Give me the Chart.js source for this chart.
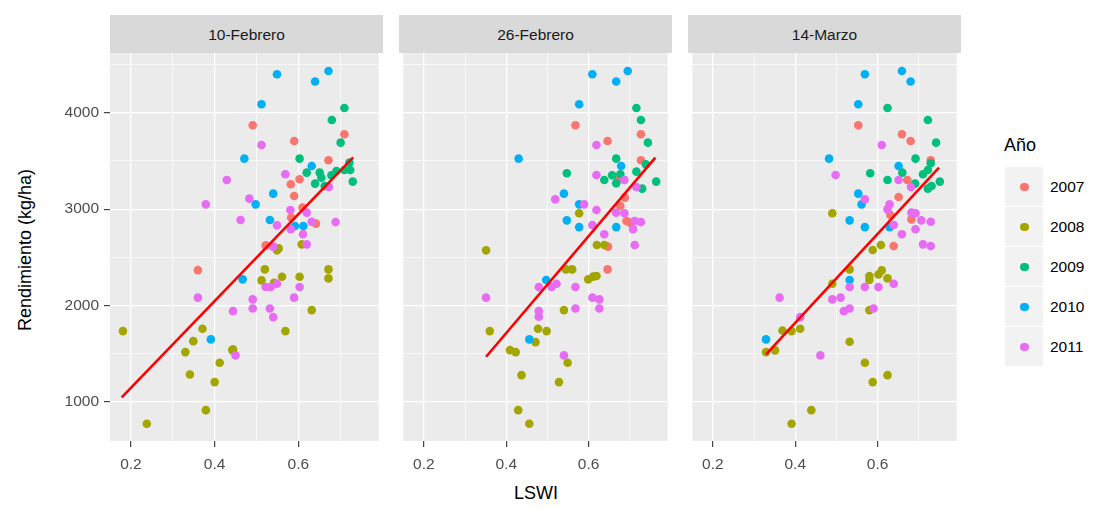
<!DOCTYPE html>
<html>
<head>
<meta charset="utf-8">
<script src="https://cdn.jsdelivr.net/npm/chart.js@4.4.0/dist/chart.umd.min.js"></script>
<style>
  body { margin: 0; background: #fff; font-family: "Liberation Sans", Arial, sans-serif; }
  #wrap { position: relative; width: 1109px; height: 509px; overflow: hidden; }
  .panel { position: absolute; top: 33px; }
  .strip { position: absolute; top: 15px; height: 38px; width: 273px; background: #D9D9D9;
           color: #1A1A1A; font-size: 15.5px; line-height: 40px; text-align: center; }
  #ytitle { position: absolute; left: 25px; top: 250px; transform: translate(-50%, -50%) rotate(-90deg);
            font-size: 18px; white-space: nowrap; color: #000; }
  #xtitle { position: absolute; left: 536px; top: 493px; transform: translate(-50%, -50%);
            font-size: 18px; color: #000; }
  #legend { position: absolute; left: 1004px; top: 132px; }
  #legend .title { font-size: 18px; height: 35px; line-height: 26px; }
  .row { position: relative; height: 40px; }
  .key { position: absolute; left: 1px; top: 0; width: 38px; height: 39px; background: #F2F2F2; }
  .dot { position: absolute; left: 15px; top: 15.5px; width: 8.5px; height: 8.5px; border-radius: 50%; }
  .lab { position: absolute; left: 46px; top: 0; line-height: 40px; font-size: 15.5px; color: #000; }
</style>
</head>
<body>
<div id="wrap">
  <div id="ytitle">Rendimiento (kg/ha)</div>
  <div id="xtitle">LSWI</div>
  <div id="legend"><div class="title">Año</div></div>
</div>
<script>
console.log("we've reached the script");

// facet names, years, colours
const facets = ["10-Febrero", "26-Febrero", "14-Marzo"];
const years = ["2007", "2008", "2009", "2010", "2011"];
const yearColors = ["#F8766D", "#A3A500", "#00BF7D", "#00B0F6", "#E76BF3"];

// axis ticks
const xTicks = [0.2, 0.4, 0.6];
const xMinor = [0.3, 0.5, 0.7];
const yTicks = [1000, 2000, 3000, 4000];
const yMinor = [1500, 2500, 3500, 4500];

// panel 1: 10-Febrero  [LSWI, rendimiento]
const feb10_2007 = [[0.491,3870],[0.710,3777],[0.590,3707],[0.672,3507],[0.582,3258],[0.603,3310],[0.590,3136],
  [0.610,3016],[0.583,2912],[0.642,2850],[0.522,2624],[0.360,2368]];
const feb10_2008 = [[0.553,2593],[0.608,2635],[0.549,2573],[0.520,2375],[0.512,2261],[0.561,2299],[0.603,2299],
  [0.672,2375],[0.672,2282],[0.542,2237],[0.632,1953],[0.569,1735],[0.444,1545],[0.371,1760],[0.349,1631],
  [0.330,1517],[0.442,1538],[0.412,1407],[0.341,1285],[0.400,1206],[0.379,915],[0.238,774],[0.181,1735]];
const feb10_2009 = [[0.710,4050],[0.680,3925],[0.701,3690],[0.603,3524],[0.722,3483],[0.651,3379],[0.620,3379],
  [0.679,3351],[0.691,3396],[0.710,3406],[0.724,3406],[0.730,3286],[0.640,3265],[0.655,3327],[0.663,3240]];
const feb10_2010 = [[0.549,4400],[0.672,4434],[0.640,4324],[0.512,4088],[0.471,3524],[0.632,3448],[0.540,3161],
  [0.498,3050],[0.532,2887],[0.592,2825],[0.612,2825],[0.467,2272],[0.391,1649]];
const feb10_2011 = [[0.512,3666],[0.569,3362],[0.673,3230],[0.483,3109],[0.462,2887],[0.581,2991],[0.620,2964],
  [0.689,2866],[0.632,2870],[0.549,2832],[0.582,2791],[0.611,2739],[0.540,2611],[0.620,2635],[0.522,2192],
  [0.534,2192],[0.549,2227],[0.603,2192],[0.590,2082],[0.491,2064],[0.491,1970],[0.532,1970],[0.540,1880],
  [0.444,1942],[0.450,1483],[0.360,2082],[0.429,3302],[0.379,3050]];

// panel 2: 26-Febrero
const feb26_2007 = [[0.568,3870],[0.727,3777],[0.646,3707],[0.727,3507],[0.673,3310],[0.688,3120],[0.677,3033],
  [0.692,2877],[0.700,2860],[0.647,2611],[0.646,2375]];
const feb26_2008 = [[0.351,2573],[0.360,1735],[0.409,1538],[0.423,1517],[0.437,1278],[0.429,915],[0.456,774],
  [0.471,1621],[0.620,2628],[0.638,2628],[0.545,2375],[0.560,2375],[0.599,2272],[0.611,2300],[0.619,2306],
  [0.540,1953],[0.477,1760],[0.498,1735],[0.549,1407],[0.528,1206],[0.577,2957]];
const feb26_2009 = [[0.716,4050],[0.727,3925],[0.744,3690],[0.667,3524],[0.547,3372],[0.638,3302],[0.657,3351],
  [0.677,3362],[0.667,3268],[0.716,3389],[0.739,3465],[0.730,3213],[0.764,3286]];
const feb26_2010 = [[0.609,4400],[0.695,4434],[0.667,4324],[0.577,4088],[0.430,3524],[0.679,3448],[0.540,3161],
  [0.577,3050],[0.547,2884],[0.577,2814],[0.667,2814],[0.497,2265],[0.456,1649]];
const feb26_2011 = [[0.619,3666],[0.619,3354],[0.687,3302],[0.716,3230],[0.519,3102],[0.589,3050],[0.619,2991],
  [0.667,2964],[0.687,2957],[0.712,2877],[0.727,2866],[0.708,2791],[0.609,2835],[0.638,2739],[0.712,2628],
  [0.479,2192],[0.510,2192],[0.522,2227],[0.568,2192],[0.609,2082],[0.626,2064],[0.626,1970],[0.568,1970],
  [0.479,1942],[0.479,1885],[0.540,1483],[0.351,2082]];

// panel 3: 14-Marzo
const mar14_2007 = [[0.553,3870],[0.659,3777],[0.680,3707],[0.729,3507],[0.672,3302],[0.651,3126],[0.631,2939],
  [0.682,2894],[0.639,2617]];
const mar14_2008 = [[0.490,2957],[0.588,2576],[0.608,2628],[0.532,2375],[0.490,2227],[0.580,2306],[0.610,2365],
  [0.624,2282],[0.580,2265],[0.602,2323],[0.580,1953],[0.532,1625],[0.569,1407],[0.624,1278],[0.588,1206],
  [0.369,1742],[0.391,1735],[0.412,1760],[0.329,1517],[0.351,1535],[0.439,915],[0.391,774]];
const mar14_2009 = [[0.624,4050],[0.722,3925],[0.742,3690],[0.692,3524],[0.582,3372],[0.660,3379],[0.710,3362],
  [0.722,3406],[0.729,3476],[0.624,3302],[0.691,3265],[0.722,3213],[0.731,3240],[0.751,3286]];
const mar14_2010 = [[0.569,4400],[0.659,4434],[0.680,4324],[0.553,4088],[0.482,3524],[0.651,3448],[0.553,3161],
  [0.561,3050],[0.532,2884],[0.569,2814],[0.629,2814],[0.532,2265],[0.329,1649]];
const mar14_2011 = [[0.610,3666],[0.498,3354],[0.651,3302],[0.681,3230],[0.569,3102],[0.629,3050],[0.624,2998],
  [0.682,2964],[0.692,2957],[0.706,2884],[0.729,2870],[0.692,2791],[0.639,2835],[0.659,2739],[0.710,2635],
  [0.729,2617],[0.532,2192],[0.569,2192],[0.602,2192],[0.639,2227],[0.490,2064],[0.510,2082],[0.518,1942],
  [0.532,1970],[0.590,1970],[0.461,1483],[0.362,2082],[0.412,1880]];

// linear fit ends per panel
const fitFeb10 = [[0.178,1047],[0.731,3538]];
const fitFeb26 = [[0.351,1469],[0.762,3535]];
const fitMar14 = [[0.329,1493],[0.749,3431]];

const panelPoints = [
  [feb10_2007, feb10_2008, feb10_2009, feb10_2010, feb10_2011],
  [feb26_2007, feb26_2008, feb26_2009, feb26_2010, feb26_2011],
  [mar14_2007, mar14_2008, mar14_2009, mar14_2010, mar14_2011]
];
const panelFits = [fitFeb10, fitFeb26, fitMar14];

// layout
const panelLeft = [110, 399, 688];
const panelW = 273;
const fontFam = "'Liberation Sans', Arial, sans-serif";

const panelBg = {
  id: 'panelBg',
  beforeDraw(chart) {
    const {ctx, chartArea: a} = chart;
    ctx.save();
    ctx.fillStyle = '#EBEBEB';
    ctx.fillRect(a.left, a.top, a.right - a.left, a.bottom - a.top);
    ctx.restore();
  }
};

const toXY = arr => arr.map(([x, y]) => ({x: x, y: y}));
const xAll = [...xTicks, ...xMinor].sort((a, b) => a - b);
const yAll = [...yTicks, ...yMinor].sort((a, b) => a - b);

function makePanel(i) {
  const wrap = document.getElementById("wrap");
  const yw = i === 0 ? 70 : 0;

  const strip = document.createElement("div");
  strip.className = "strip";
  strip.style.left = panelLeft[i] + "px";
  strip.textContent = facets[i];
  wrap.appendChild(strip);

  const box = document.createElement("div");
  box.className = "panel";
  box.style.left = (panelLeft[i] - yw) + "px";
  const cv = document.createElement("canvas");
  cv.width = panelW + yw;
  cv.height = 443;
  box.appendChild(cv);
  wrap.appendChild(box);

  const datasets = [{
    type: 'line', data: toXY(panelFits[i]), borderColor: '#FF0000', borderWidth: 2.6,
    pointRadius: 0, fill: false, order: 0
  }];
  years.forEach((yr, k) => {
    datasets.push({
      type: 'scatter', label: yr, data: toXY(panelPoints[i][k]),
      backgroundColor: yearColors[k], borderWidth: 0, pointRadius: 4.3, pointHoverRadius: 4.3,
      order: 5 - k
    });
  });

  new Chart(cv.getContext('2d'), {
    type: 'scatter',
    data: { datasets },
    plugins: [panelBg],
    options: {
      responsive: false,
      animation: false,
      devicePixelRatio: 1,
      // top padding larger than the half label height so the plot area starts exactly under the strip
      layout: { padding: { top: 20, right: 0, bottom: 0, left: 0 } },
      plugins: { legend: { display: false }, tooltip: { enabled: false } },
      scales: {
        x: {
          type: 'linear', min: 0.15, max: 0.792,
          afterBuildTicks: s => { s.ticks = xAll.map(v => ({value: v})); },
          afterFit: s => { s.height = 35; },
          border: { display: false },
          grid: {
            color: '#FFFFFF',
            lineWidth: c => (c.tick && xTicks.includes(c.tick.value)) ? 1.3 : 0.7,
            drawTicks: true, tickLength: 6, tickWidth: 1.1,
            tickColor: c => (c.tick && xTicks.includes(c.tick.value)) ? '#333333' : 'rgba(0,0,0,0)'
          },
          ticks: {
            autoSkip: false, maxRotation: 0, padding: 8, color: '#4D4D4D',
            font: { family: fontFam, size: 15.5 },
            callback: v => xTicks.includes(v) ? v.toFixed(1) : ''
          }
        },
        y: {
          type: 'linear', min: 595, max: 4620,
          afterBuildTicks: s => { s.ticks = yAll.map(v => ({value: v})); },
          afterFit: s => { s.width = yw; },
          border: { display: false },
          grid: {
            color: '#FFFFFF',
            lineWidth: c => (c.tick && yTicks.includes(c.tick.value)) ? 1.3 : 0.7,
            drawTicks: i === 0, tickLength: 6, tickWidth: 1.1,
            tickColor: c => (c.tick && yTicks.includes(c.tick.value)) ? '#333333' : 'rgba(0,0,0,0)'
          },
          ticks: {
            display: i === 0, autoSkip: false, padding: 5, color: '#4D4D4D',
            font: { family: fontFam, size: 15.5 },
            callback: v => yTicks.includes(v) ? String(v) : ''
          }
        }
      }
    }
  });
}

facets.forEach((f, i) => makePanel(i));

// legend
const legend = document.getElementById("legend");
years.forEach((yr, k) => {
  const row = document.createElement("div");
  row.className = "row";
  row.innerHTML = '<div class="key"><div class="dot" style="background:' + yearColors[k] + '"></div></div>' +
                  '<div class="lab">' + yr + '</div>';
  legend.appendChild(row);
});
</script>
</body>
</html>
